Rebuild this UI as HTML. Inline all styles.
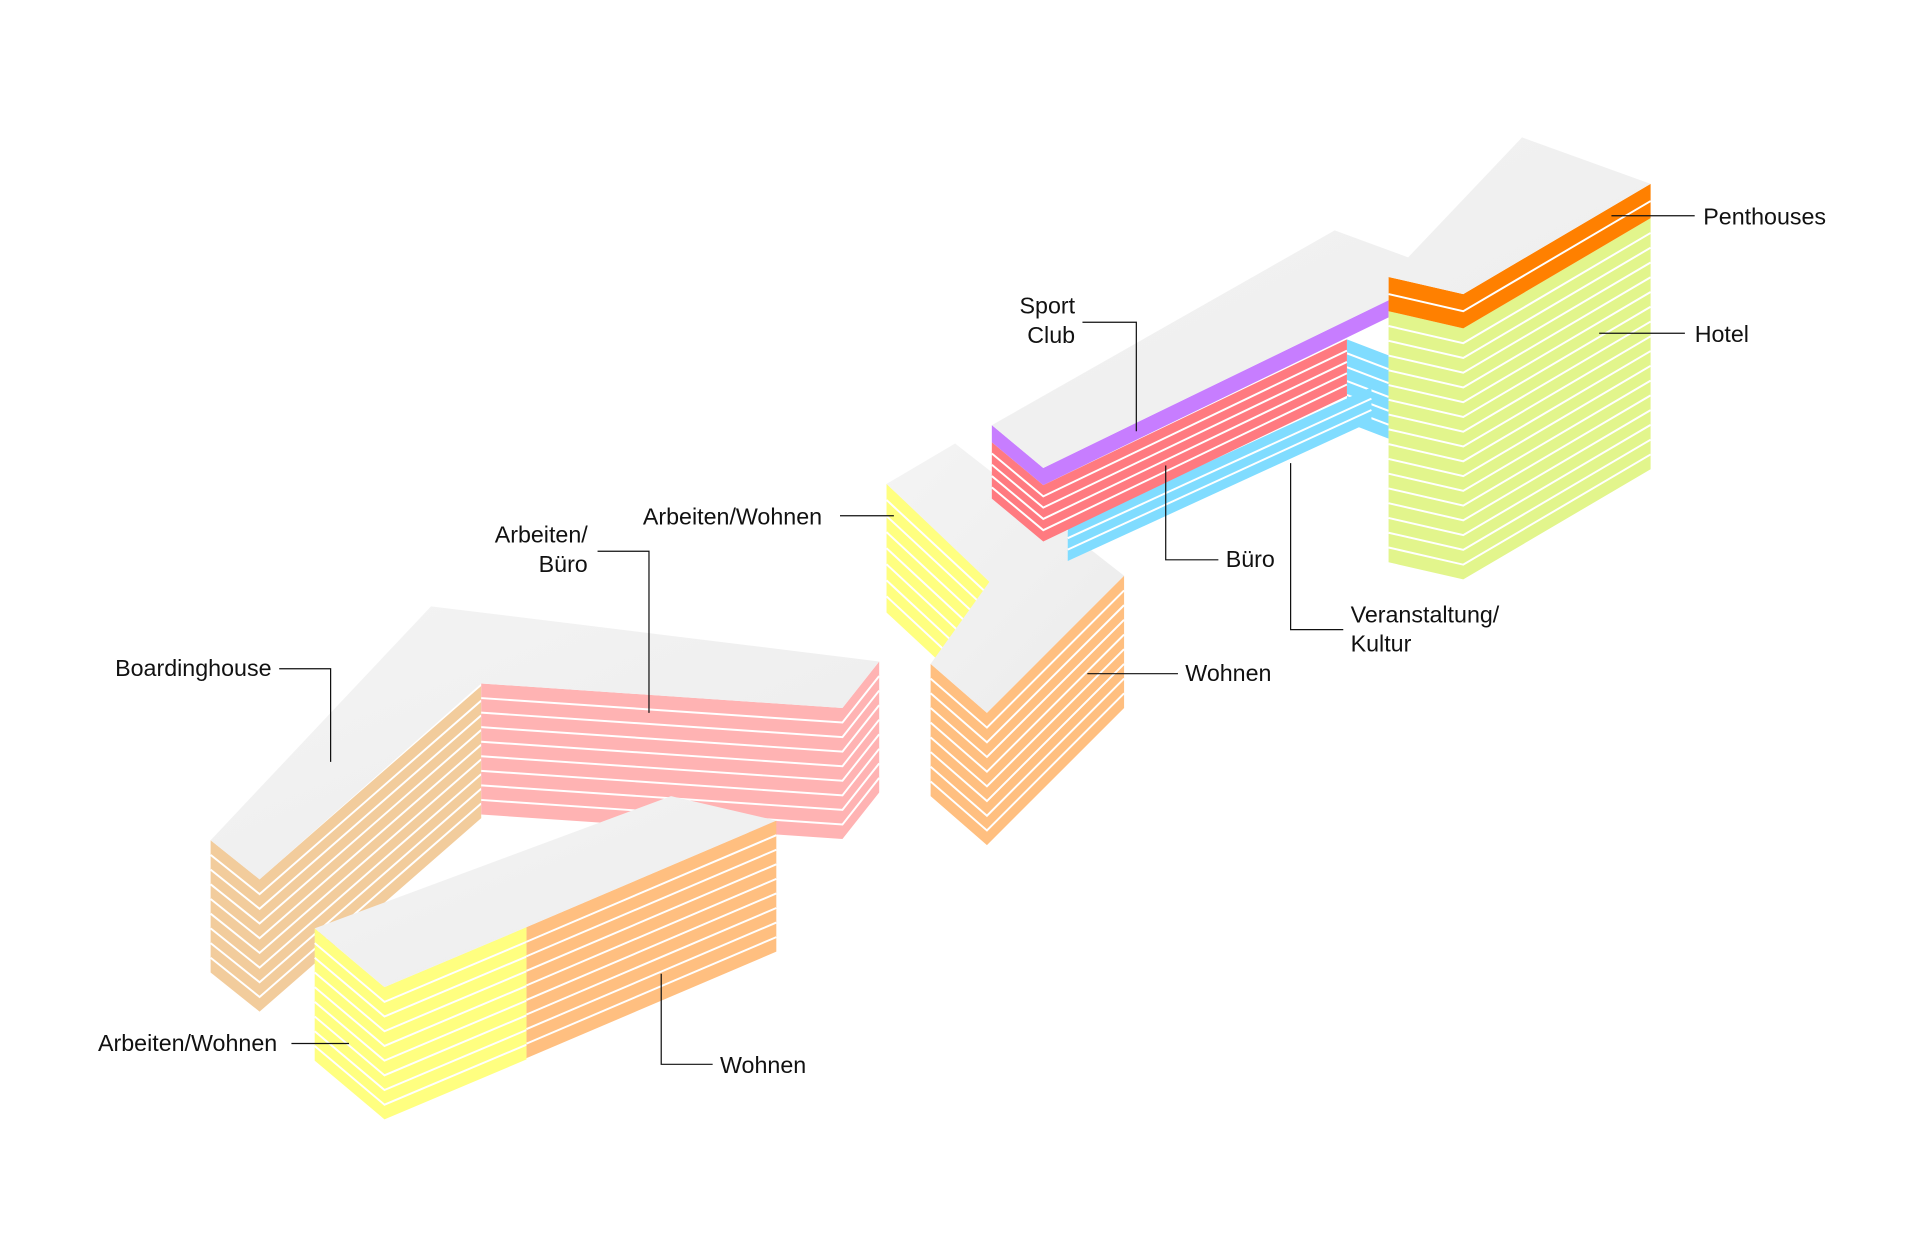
<!DOCTYPE html>
<html><head><meta charset="utf-8"><style>
html,body{margin:0;padding:0;background:#fff;}
svg{display:block;}
text{font-family:"Liberation Sans",sans-serif;font-size:19px;fill:#111;}
</style></head><body>
<svg id="s" width="1920" height="1258" viewBox="0 0 1568 1027" xmlns="http://www.w3.org/2000/svg">
<defs><linearGradient id="rg" x1="0" y1="0" x2="1" y2="1"><stop offset="0" stop-color="#f4f4f4"/><stop offset="1" stop-color="#ececec"/></linearGradient></defs>
<g id="g"></g>
<g stroke="#111" stroke-width="1" fill="none">
<polyline points="228,546 270,546 270,622"/>
<polyline points="488,450 530,450 530,582"/>
<polyline points="686,421 730,421"/>
<polyline points="884,263 928,263 928,352"/>
<polyline points="952,380 952,457 995,457"/>
<polyline points="1054,378 1054,514 1097,514"/>
<polyline points="888,550 962,550"/>
<polyline points="1316,176 1384,176"/>
<polyline points="1306,272 1376,272"/>
<polyline points="238,852 285,852"/>
<polyline points="540,795 540,869 582,869"/>
</g>
<text x="94" y="552">Boardinghouse</text>
<text x="480" y="443" text-anchor="end">Arbeiten/</text>
<text x="480" y="467" text-anchor="end">Büro</text>
<text x="525" y="428">Arbeiten/Wohnen</text>
<text x="878" y="256" text-anchor="end">Sport</text>
<text x="878" y="280" text-anchor="end">Club</text>
<text x="1001" y="463">Büro</text>
<text x="1103" y="508">Veranstaltung/</text>
<text x="1103" y="532">Kultur</text>
<text x="968" y="556">Wohnen</text>
<text x="1391" y="183">Penthouses</text>
<text x="1384" y="279">Hotel</text>
<text x="80" y="858">Arbeiten/Wohnen</text>
<text x="588" y="876">Wohnen</text>
</svg>
<script>
var g=document.getElementById('g'),NS='http://www.w3.org/2000/svg';
function el(n,a){var e=document.createElementNS(NS,n);for(var k in a)e.setAttribute(k,a[k]);g.appendChild(e);return e;}
function pts(a){return a.map(function(p){return p[0]+','+p[1]}).join(' ');}
function face(top,d,n,c){
 var bot=top.map(function(p){return [p[0],p[1]+d]}).reverse();
 el('polygon',{points:pts(top.concat(bot)),fill:c});
 for(var i=1;i<n;i++){var o=d*i/n;
  el('polyline',{points:pts(top.map(function(p){return [p[0],p[1]+o]})),fill:'none',stroke:'#fff','stroke-width':1.6});}
}
function roof(p){el('polygon',{points:pts(p),fill:'url(#rg)'});}
face([[172,686],[212,718],[393,560]],108,9,'#f2cc9c');
face([[393,558],[688,578],[718,540]],107,9,'#ffb3b3');
roof([[172,686],[352,495],[718,540],[688,578],[393,558],[212,718]]);
face([[257,758],[314,806],[430,757]],108,9,'#ffff80');
face([[430,757],[634,670]],107,9,'#ffbf80');
roof([[257,758],[548,650],[634,670],[430,757],[314,806]]);
face([[724,395],[808,473]],105,8,'#ffff80');
face([[760,542],[806,582],[918,470]],108,9,'#ffbf80');
roof([[724,395],[780,362],[918,470],[806,582],[760,542],[808,475]]);
face([[1100,277],[1134,290]],68,6,'#80dcff');
face([[872,430],[1120,316]],28,3,'#80dcff');
face([[810,361],[852,396],[1100,277]],46,5,'#ff7a80');
face([[810,347],[852,382],[1134,245]],14,1,'#c77dff');
face([[1134,254],[1195,268],[1348,178]],205,17,'#e2f58c');
face([[1134,226],[1195,240],[1348,150]],28,2,'#ff8000');
roof([[810,347],[1090,188],[1150,210],[1243,112],[1348,150],[1195,240],[1134,226],[1134,245],[852,382]]);
</script>
</body></html>
